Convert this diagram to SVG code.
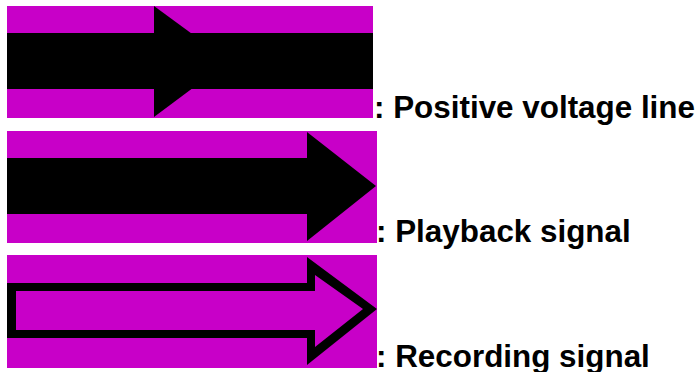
<svg xmlns="http://www.w3.org/2000/svg" width="699" height="372" viewBox="0 0 699 372">
<style>
.bg{fill:#c800c8}
.blk{fill:#000}
.lbl{font-family:"Liberation Sans",Arial,sans-serif;font-weight:bold;font-size:31.4px;fill:#000}
</style>
<rect width="699" height="372" fill="#fff"/>
<g id="positive-voltage">
<rect class="bg" x="7" y="6" width="366" height="112"/>
<rect class="blk" x="7" y="33" width="366" height="56"/>
<polygon class="blk" points="154,6 229,61 154,117"/>
<text class="lbl" x="374" y="118">: Positive voltage line</text>
</g>
<g id="playback-signal">
<rect class="bg" x="7" y="131" width="370" height="112"/>
<polygon class="blk" points="7,158 307,158 307,132 376,186 307,241 307,214 7,214"/>
<text class="lbl" x="376" y="242">: Playback signal</text>
</g>
<g id="recording-signal">
<rect class="bg" x="7" y="255" width="370" height="113"/>
<polygon class="blk" points="7,283 307,283 307,257 377,309 307,365 307,338 7,338"/>
<polygon class="bg" points="16,291 315,291 315,275 363,309 315,347 315,330 16,330"/>
<text class="lbl" x="376" y="367">: Recording signal</text>
</g>
</svg>
